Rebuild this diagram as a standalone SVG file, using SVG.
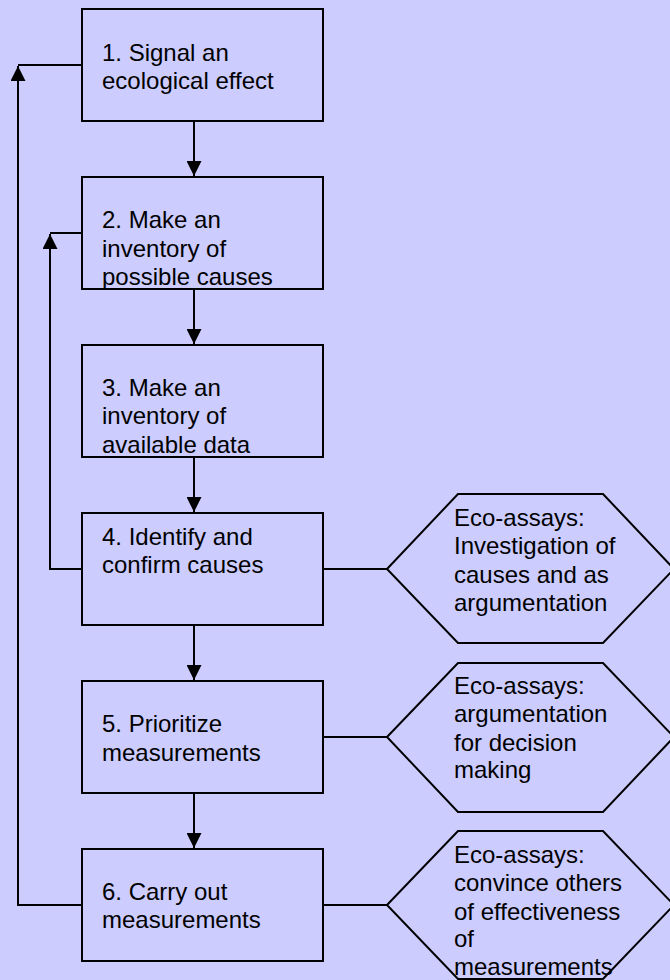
<svg xmlns="http://www.w3.org/2000/svg" width="670" height="980" viewBox="0 0 670 980">
<defs>
<style>
.box{fill:#CCCCFF;stroke:#000;stroke-width:2}
.ln{fill:none;stroke:#000;stroke-width:2}
text{font-family:"Liberation Sans",Arial,sans-serif;font-size:24px;fill:#000}
</style>
<marker id="ah" markerWidth="15" markerHeight="15" viewBox="0 0 15 15" refX="15" refY="7.5" orient="auto" markerUnits="userSpaceOnUse">
<path d="M0,0 L15,7.5 L0,15 Z" fill="#000"/>
</marker>
</defs>
<rect width="670" height="980" fill="#CCCCFF"/>
<g id="connectors">
<line class="ln" x1="194" y1="121" x2="194" y2="176" marker-end="url(#ah)"/>
<line class="ln" x1="194" y1="289" x2="194" y2="344" marker-end="url(#ah)"/>
<line class="ln" x1="194" y1="457" x2="194" y2="512" marker-end="url(#ah)"/>
<line class="ln" x1="194" y1="625" x2="194" y2="680" marker-end="url(#ah)"/>
<line class="ln" x1="194" y1="793" x2="194" y2="848" marker-end="url(#ah)"/>
<polyline class="ln" points="82,905 18,905 18,66" marker-end="url(#ah)"/>
<line class="ln" x1="18" y1="65" x2="82" y2="65"/>
<polyline class="ln" points="82,569 50,569 50,234" marker-end="url(#ah)"/>
<line class="ln" x1="50" y1="233" x2="82" y2="233"/>
<line class="ln" x1="323" y1="569" x2="387" y2="569"/>
<line class="ln" x1="323" y1="737" x2="387" y2="737"/>
<line class="ln" x1="323" y1="905" x2="387" y2="905"/>
</g>
<g id="n1">
<rect class="box" x="82" y="9" width="241" height="112"/>
<text x="102" y="61">1. Signal an</text>
<text x="102" y="89">ecological effect</text>
</g>
<g id="n2">
<rect class="box" x="82" y="177" width="241" height="112"/>
<text x="102" y="228">2. Make an</text>
<text x="102" y="257">inventory of</text>
<text x="102" y="285">possible causes</text>
</g>
<g id="n3">
<rect class="box" x="82" y="345" width="241" height="112"/>
<text x="102" y="396">3. Make an</text>
<text x="102" y="424">inventory of</text>
<text x="102" y="453">available data</text>
</g>
<g id="n4">
<rect class="box" x="82" y="513" width="241" height="112"/>
<text x="102" y="545">4. Identify and</text>
<text x="102" y="573">confirm causes</text>
</g>
<g id="n5">
<rect class="box" x="82" y="681" width="241" height="112"/>
<text x="102" y="732">5. Prioritize</text>
<text x="102" y="761">measurements</text>
</g>
<g id="n6">
<rect class="box" x="82" y="849" width="241" height="112"/>
<text x="102" y="900">6. Carry out</text>
<text x="102" y="928">measurements</text>
</g>
<g id="h1">
<polygon class="box" points="387,569 458,494 603,494 674,569 603,643 458,643"/>
<text x="454" y="526">Eco-assays:</text>
<text x="454" y="554">Investigation of</text>
<text x="454" y="583">causes and as</text>
<text x="454" y="611">argumentation</text>
</g>
<g id="h2">
<polygon class="box" points="387,737 458,663 603,663 674,737 603,812 458,812"/>
<text x="454" y="694">Eco-assays:</text>
<text x="454" y="722">argumentation</text>
<text x="454" y="751">for decision</text>
<text x="454" y="778">making</text>
</g>
<g id="h3">
<polygon class="box" points="387,905 458,831 603,831 674,905 603,979 458,979"/>
<text x="454" y="863">Eco-assays:</text>
<text x="454" y="891">convince others</text>
<text x="454" y="920">of effectiveness</text>
<text x="454" y="947">of</text>
<text x="454" y="975">measurements</text>
</g>
</svg>
